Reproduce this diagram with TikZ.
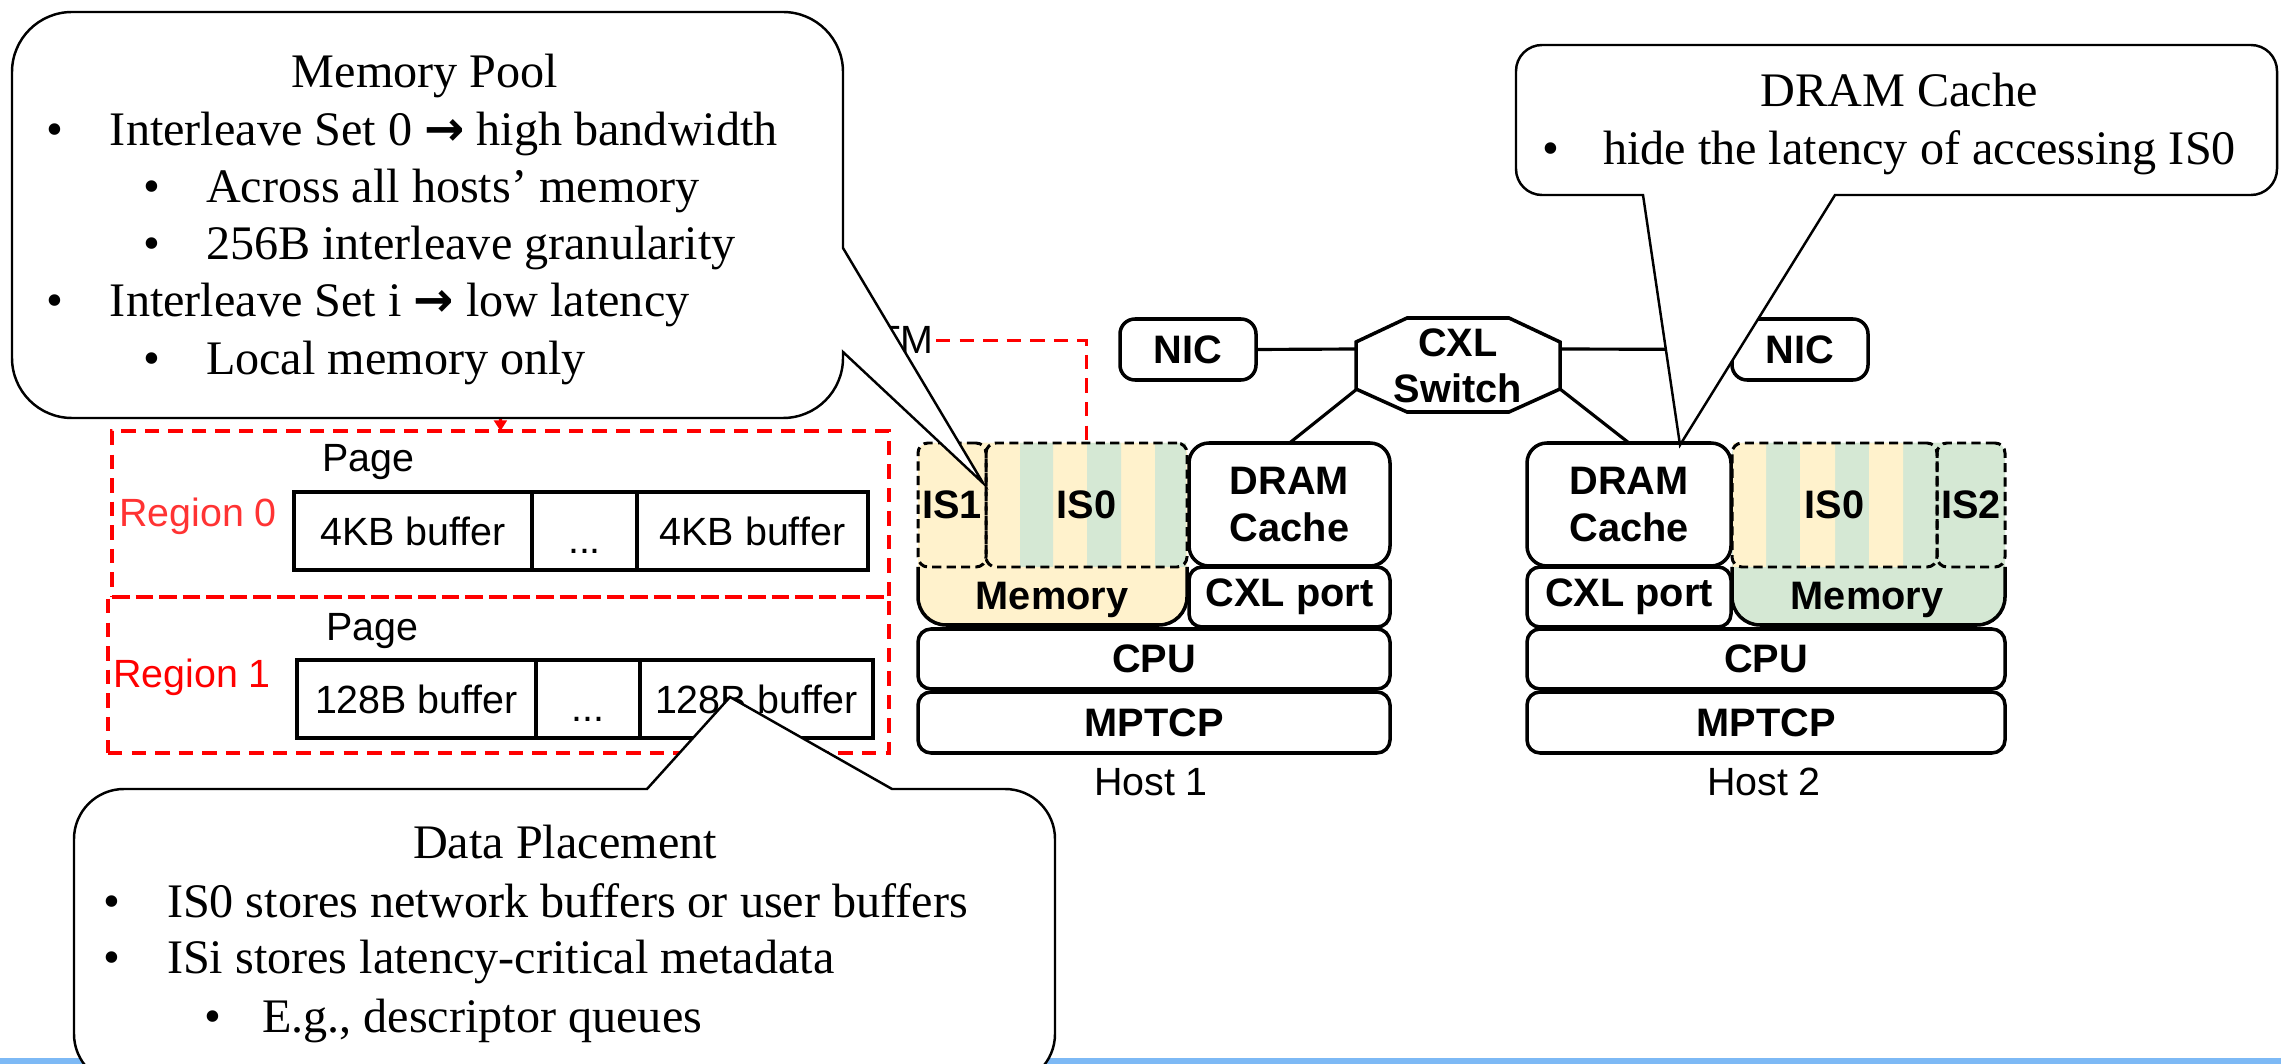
\documentclass[tikz,border=0pt]{standalone}
\usepackage{fontspec}
\setmainfont{Liberation Serif}
\newfontfamily\arialf{Liberation Sans}
\newfontfamily\djv{DejaVu Sans}
\usetikzlibrary{arrows.meta}
\definecolor{memy}{HTML}{FFF2CC}
\definecolor{memg}{HTML}{D5E8D4}
\definecolor{slideblue}{RGB}{125,185,245}
\newcommand\labfont{\arialf\bfseries\fontsize{11.3}{13.1}\selectfont}
\newcommand\regfont{\arialf\fontsize{11.2}{13.1}\selectfont}
\newcommand\tnr{\fontsize{13.7}{16}\selectfont}
\newcommand\arr{{\djv\bfseries →}}
\newcommand\mybox[7]{\node[#6, minimum width={(#4-#2)*0.01cm}, minimum height={(#5-#3)*0.01cm}] (#1) at ({(#2+#4)/2},{(#3+#5)/2}) {#7};}
\tikzset{
  hostline/.style={line width=1pt},
  hostbox/.style={draw, line width=1pt, rounded corners=0.13cm, fill=white, align=center, font=\labfont},
  isbox/.style={draw, line width=0.85pt, dash pattern=on 2.6pt off 1.5pt, rounded corners=0.1cm, font=\labfont},
  cell/.style={draw, line width=0.9pt, font=\regfont},
  regbox/.style={draw=red, line width=0.9pt, dash pattern=on 4.1pt off 2.6pt},
  reddash/.style={red, line width=0.9pt, dash pattern=on 4.1pt off 2.6pt},
  callout/.style={draw, fill=white, line width=0.7pt, line join=miter},
  conn/.style={line width=0.9pt},
  ctext/.style={anchor=base west, font=\tnr},
  cbul/.style={anchor=base, font=\tnr},
}
\begin{document}
\begin{tikzpicture}[x=0.01cm, y=-0.01cm, every node/.style={inner sep=0pt, outer sep=0pt}]
\useasboundingbox (0,0) rectangle (2281,1064);
\fill[white] (0,0) rectangle (2281,1064);
\fill[slideblue] (0,1058) rectangle (2281,1064);

% ---------------- Host 1 ----------------
\mybox{mem1}{918}{443}{1187}{625}{fill=memy, rounded corners=0.28cm}{}
\draw[hostline, rounded corners=0.28cm] (918,567) -- (918,625) -- (1187,625) -- (1187,567);
\fill[memy, rounded corners=0.1cm] (918,443) rectangle (1187,567);
\fill[memg] (1020,443) rectangle (1053,567) (1087,443) rectangle (1121,567) (1155,443) rectangle (1186,567);
\mybox{is1a}{918}{443}{986}{567}{isbox}{IS1}
\mybox{is0a}{986}{443}{1187}{567}{isbox}{IS0}
\node[font=\labfont] (mem1lbl) at (1052,600) {Memory};
\mybox{cache1}{1189}{443}{1390}{566}{hostbox, rounded corners=0.2cm}{DRAM\\Cache}
\mybox{port1}{1189}{567}{1390}{627}{hostbox}{CXL port}
\mybox{cpu1}{918}{629}{1390}{689}{hostbox}{CPU}
\mybox{mptcp1}{918}{692}{1390}{753}{hostbox}{MPTCP}
\node[font=\regfont] (host1) at (1151,782) {Host 1};

% ---------------- Host 2 ----------------
\mybox{mem2}{1732}{443}{2005}{625}{fill=memg, rounded corners=0.28cm}{}
\draw[hostline, rounded corners=0.28cm] (1732,567) -- (1732,625) -- (2005,625) -- (2005,567);
\fill[memg, rounded corners=0.1cm] (1732,443) rectangle (2005,567);
\fill[memy] (1733,443) rectangle (1766,567) (1800,443) rectangle (1835,567) (1869,443) rectangle (1903,567);
\mybox{is0b}{1732}{443}{1937}{567}{isbox}{IS0}
\mybox{is2b}{1937}{443}{2005}{567}{isbox}{IS2}
\node[font=\labfont] (mem2lbl) at (1867,600) {Memory};
\mybox{cache2}{1527}{443}{1731}{566}{hostbox, rounded corners=0.2cm}{DRAM\\Cache}
\mybox{port2}{1527}{567}{1731}{627}{hostbox}{CXL port}
\mybox{cpu2}{1527}{629}{2005}{689}{hostbox}{CPU}
\mybox{mptcp2}{1527}{692}{2005}{753}{hostbox}{MPTCP}
\node[font=\regfont] (host2) at (1764,782) {Host 2};

% ---------------- NICs and switch ----------------
\mybox{nic1}{1120}{319}{1256}{380}{hostbox, rounded corners=0.15cm}{NIC}
\mybox{nic2}{1732}{319}{1868}{380}{hostbox, rounded corners=0.15cm}{NIC}
\draw[hostline] (1407,318) -- (1509,318) -- (1560,342) -- (1560,389) -- (1509,412) -- (1407,412) -- (1356,389) -- (1356,342) -- cycle;
\node[font=\labfont, align=center] (sw) at (1458,366) {CXL\\Switch};
\coordinate (swW) at (1356,349);
\coordinate (swE) at (1560,349);
\coordinate (swSW) at (1357,389);
\coordinate (swSE) at (1560,389);
\draw[conn] (nic1.east) -- (swW);
\draw[conn] (swE) -- (nic2.west);
\draw[conn] (swSW) -- (cache1.north);
\draw[conn] (swSE) -- (cache2.north);

% ---------------- Regions ----------------
\mybox{reg0}{112}{431}{889}{597}{regbox}{}
\mybox{reg1}{108}{597}{889}{753}{regbox}{}
\node[font=\regfont, text=red!80] (reg0lbl) at (198,516) {Region 0};
\node[font=\regfont, text=red] (reg1lbl) at (192,677) {Region 1};
\node[font=\regfont] (page0) at (368,462) {Page};
\node[font=\regfont] (page1) at (372,631) {Page};
\mybox{r0a}{294}{492}{532}{570}{cell}{4KB buffer}
\mybox{r0b}{532}{492}{637}{570}{cell, text height=0.44cm, text depth=0pt}{...}
\mybox{r0c}{637}{492}{868}{570}{cell}{4KB buffer}
\mybox{r1a}{297}{660}{536}{738}{cell}{128B buffer}
\mybox{r1b}{536}{660}{640}{738}{cell, text height=0.44cm, text depth=0pt}{...}
\mybox{r1c}{640}{660}{873}{738}{cell}{128B buffer}

% hidden label and red dashed links
\node[font=\regfont, anchor=base east] (tm) at (933,354) {TM};
\draw[reddash] (tm.east) ++(3,0) coordinate (tmr) (tmr) -- (tmr -| is0a.north) -- (is0a.north);
\coordinate (poolsrc) at (500,360);
\draw[reddash, -{Triangle[length=3pt, width=3.6pt]}] (poolsrc) -- (reg0.north);

% ---------------- Callout: Memory Pool ----------------
\draw[callout] (72,12) -- (783,12) arc[start angle=270, end angle=360, radius=60] -- (843,248) -- (983,483) -- (843,352) -- (843,358) arc[start angle=0, end angle=90, radius=60] -- (72,418) arc[start angle=90, end angle=180, radius=60] -- (12,72) arc[start angle=180, end angle=270, radius=60] -- cycle;
\node[anchor=base, font=\tnr] (mpT) at (425,88) {Memory Pool};
\node[cbul] (mpb1) at (55,146) {•};
\node[ctext] (mp1) at (110,146) {Interleave Set 0 \arr{} high bandwidth};
\node[cbul] (mpb2) at (152,203) {•};
\node[ctext] (mp2) at (206,203) {Across all hosts’ memory};
\node[cbul] (mpb3) at (152,260) {•};
\node[ctext] (mp3) at (206,260) {256B interleave granularity};
\node[cbul] (mpb4) at (55,317) {•};
\node[ctext] (mp4) at (110,317) {Interleave Set i \arr{} low latency};
\node[cbul] (mpb5) at (152,375) {•};
\node[ctext] (mp5) at (206,375) {Local memory only};

% ---------------- Callout: Data Placement ----------------
\draw[callout] (124,789) -- (647,789) -- (730,697) -- (892,789) -- (1005,789) arc[start angle=270, end angle=360, radius=50] -- (1055,1034) arc[start angle=0, end angle=90, radius=50] -- (124,1084) arc[start angle=90, end angle=180, radius=50] -- (74,839) arc[start angle=180, end angle=270, radius=50] -- cycle;
\node[anchor=base, font=\tnr] (dpT) at (565,858) {Data Placement};
\node[cbul] (dpb1) at (112,917) {•};
\node[ctext] (dp1) at (167,917) {IS0 stores network buffers or user buffers};
\node[cbul] (dpb2) at (112,973) {•};
\node[ctext] (dp2) at (167,973) {ISi stores latency-critical metadata};
\node[cbul] (dpb3) at (213,1032) {•};
\node[ctext] (dp3) at (262,1032) {E.g., descriptor queues};

% ---------------- Callout: DRAM Cache ----------------
\draw[callout] (1542,45) -- (2251,45) arc[start angle=270, end angle=360, radius=26] -- (2277,169) arc[start angle=0, end angle=90, radius=26] -- (1835,195) -- (1680,445) -- (1643,195) -- (1542,195) arc[start angle=90, end angle=180, radius=26] -- (1516,71) arc[start angle=180, end angle=270, radius=26] -- cycle;
\node[anchor=base, font=\tnr] (dcT) at (1899,107) {DRAM Cache};
\node[cbul] (dcb1) at (1551,165) {•};
\node[ctext] (dc1) at (1603,165) {hide the latency of accessing IS0};
\end{tikzpicture}
\end{document}
